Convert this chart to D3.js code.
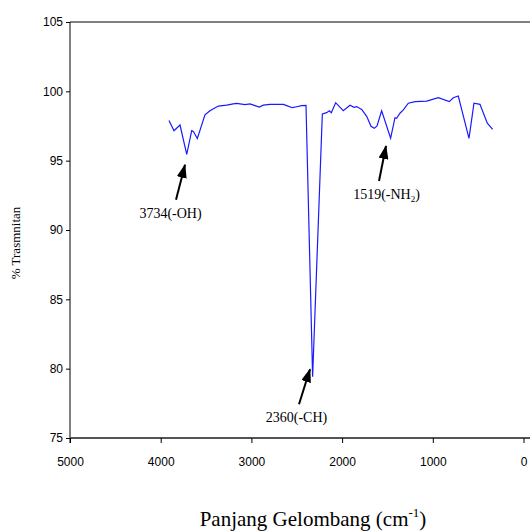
<!DOCTYPE html>
<html lang="en">
  <head>
    <meta charset="UTF-8" />
    <title>Spektrum FTIR</title>
    <script src="https://d3js.org/d3.v7.min.js"></script>
    <style>
      body { margin: 0; background: #fff; }
      .tick text { font-family: Arial, "Liberation Sans", sans-serif; font-size: 12px; fill: #000; }
      .note { font-family: "Liberation Serif", "Times New Roman", serif; font-size: 14px; }
    </style>
  </head>
  <body>
    <svg width="530" height="531"></svg>
    <script>
      // wavenumber (cm-1) and % transmittance
      const wave = [3909, 3853, 3787, 3713, 3658, 3640, 3596, 3512, 3457, 3365, 3273, 3200, 3162, 3071, 3015, 2960, 2913, 2869, 2795, 2648, 2611, 2549, 2501, 2446, 2398, 2325, 2218, 2170, 2141, 2119, 2071, 1987, 1913, 1869, 1839, 1784, 1729, 1681, 1645, 1615, 1564, 1465, 1417, 1399, 1362, 1325, 1270, 1196, 1067, 1012, 939, 818, 774, 719, 601, 546, 480, 399, 340];
      const trans = [97.9, 97.16, 97.57, 95.46, 97.16, 97.1, 96.6, 98.3, 98.6, 98.94, 99.0, 99.1, 99.13, 99.04, 99.09, 98.97, 98.87, 99.0, 99.06, 99.06, 98.97, 98.82, 98.89, 98.97, 98.99, 79.42, 98.37, 98.46, 98.6, 98.46, 99.18, 98.6, 99.0, 98.85, 98.9, 98.7, 98.2, 97.48, 97.33, 97.5, 98.6, 96.62, 98.1, 98.06, 98.42, 98.66, 99.14, 99.26, 99.3, 99.4, 99.54, 99.26, 99.54, 99.66, 96.61, 99.14, 99.06, 97.7, 97.26];

      const xTicks = [5000, 4000, 3000, 2000, 1000, 0];
      const yTicks = [75, 80, 85, 90, 95, 100, 105];

      // peak notes: arrow tip (wavenumber, transmittance) and label
      const notes = [
        { w: 3732, t: 94.7, label: "3734(-OH)", sub: "", tail: -9, dx: -14.5 },
        { w: 2354, t: 79.96, label: "2360(-CH)", sub: "", tail: -11, dx: -13.5 },
        { w: 1516, t: 96.06, label: "1519(-NH", sub: "2", tail: -7, dx: 0.5 },
      ];

      const svg = d3.select("svg");
      const x = d3.scaleLinear().domain([5000, 0]).range([70, 523.5]);
      const y = d3.scaleLinear().domain([75, 105]).range([438, 22]);

      svg.append("defs").append("marker")
        .attr("id", "head")
        .attr("viewBox", "0 0 14 10")
        .attr("refX", 13).attr("refY", 5)
        .attr("markerWidth", 7).attr("markerHeight", 5)
        .attr("markerUnits", "strokeWidth")
        .attr("orient", "auto")
        .append("path").attr("d", "M0,0L14,5L0,10z").attr("fill", "#000");

      // top border
      svg.append("line")
        .attr("x1", 70).attr("x2", 530).attr("y1", y(105)).attr("y2", y(105))
        .attr("stroke", "#000").attr("stroke-width", 1);

      const yAxis = svg.append("g")
        .attr("transform", "translate(70,0)")
        .call(d3.axisLeft(y).tickValues(yTicks).tickSize(4).tickPadding(3).tickFormat(d3.format("d")));
      yAxis.select(".domain").attr("d", `M0,${y(105)}V443`);

      const xAxis = svg.append("g")
        .attr("transform", `translate(0,${y(75)})`)
        .call(d3.axisBottom(x).tickValues(xTicks).tickSize(5).tickPadding(14).tickFormat(d3.format("d")));
      xAxis.select(".domain").attr("d", "M70,0H530").attr("stroke", "#555").attr("stroke-width", 2);

      svg.append("path")
        .datum(wave.map((w, i) => [w, trans[i]]))
        .attr("fill", "none")
        .attr("stroke", "#1a1aff")
        .attr("stroke-width", 1.2)
        .attr("d", d3.line().x(d => x(d[0])).y(d => y(d[1])));

      notes.forEach(n => {
        const tx = x(n.w), ty = y(n.t);
        svg.append("line")
          .attr("x1", tx + n.tail).attr("y1", ty + 35)
          .attr("x2", tx).attr("y2", ty)
          .attr("stroke", "#000").attr("stroke-width", 2)
          .attr("marker-end", "url(#head)");
        const t = svg.append("text")
          .attr("class", "note")
          .attr("x", tx + n.dx).attr("y", ty + 53)
          .attr("text-anchor", "middle")
          .text(n.label);
        if (n.sub) {
          t.append("tspan").attr("font-size", 9).attr("dy", 3).text(n.sub);
          t.append("tspan").attr("dy", -3).text(")");
        }
      });

      svg.append("text")
        .attr("transform", "translate(20,243) rotate(-90)")
        .attr("text-anchor", "middle")
        .attr("font-family", "Liberation Serif, Times New Roman, serif")
        .attr("font-size", 13)
        .text("% Trasmnitan");

      const xt = svg.append("text")
        .attr("x", 313).attr("y", 526)
        .attr("text-anchor", "middle")
        .attr("font-family", "Liberation Serif, Times New Roman, serif")
        .attr("font-size", 21)
        .text("Panjang Gelombang (cm");
      xt.append("tspan").attr("font-size", 13).attr("dy", -9).text("-1");
      xt.append("tspan").attr("dy", 9).text(")");
    </script>
  </body>
</html>
